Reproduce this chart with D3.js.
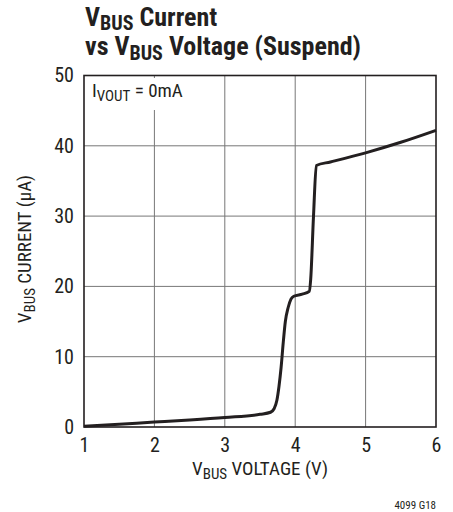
<!DOCTYPE html>
<html>
<head>
<meta charset="utf-8">
<script src="https://cdn.jsdelivr.net/npm/d3@7"></script>
<style>
body{margin:0;background:#fff;}
svg{display:block;}
text{font-family:"Liberation Sans Narrow","Roboto Condensed","Arial Narrow",sans-serif;fill:#231f20;}
</style>
</head>
<body>
<svg id="c" width="453" height="512"></svg>
<script>
const voltage = [1, 1.5, 2, 2.5, 3, 3.5, 3.65, 3.7, 3.74, 3.77, 3.8, 3.83, 3.86, 3.9, 3.94, 3.98, 4.1, 4.2, 4.22, 4.26, 4.3, 4.5, 5, 5.5, 6];
const current = [0.1, 0.4, 0.7, 1.0, 1.35, 1.8, 2.1, 2.6, 3.8, 5.8, 8.5, 12, 15, 17, 18.2, 18.6, 18.9, 19.3, 21, 30, 37.2, 37.7, 39.0, 40.5, 42.2];
const xTicks = [1, 2, 3, 4, 5, 6];
const yTicks = [0, 10, 20, 30, 40, 50];

const svg = d3.select("#c");
const L = 84, R = 436, T = 75.5, B = 427;
const x = d3.scaleLinear().domain([1, 6]).range([L, R]);
const y = d3.scaleLinear().domain([0, 50]).range([B, T]);

// grid
const g = svg.append("g");
g.selectAll(".vx").data(xTicks.slice(1, -1)).join("line")
  .attr("x1", d => x(d)).attr("x2", d => x(d)).attr("y1", T).attr("y2", B)
  .attr("stroke", "#777").attr("stroke-width", 1);
g.selectAll(".hy").data(yTicks.slice(1, -1)).join("line")
  .attr("x1", L).attr("x2", R).attr("y1", d => y(d)).attr("y2", d => y(d))
  .attr("stroke", "#777").attr("stroke-width", 1);

// axes (tick labels)
const xAxis = d3.axisBottom(x).tickValues(xTicks).tickSize(0).tickPadding(11).tickFormat(d3.format("d"));
const ax = svg.append("g").attr("transform", `translate(0,${B})`).call(xAxis);
ax.attr("font-family", null).attr("font-size", null);
ax.select(".domain").remove();
ax.selectAll("text").attr("font-size", 20).attr("fill", "#231f20");
const yAxis = d3.axisLeft(y).tickValues(yTicks).tickSize(0).tickPadding(10).tickFormat(d3.format("d"));
const ay = svg.append("g").attr("transform", `translate(${L},0)`).call(yAxis);
ay.attr("font-family", null).attr("font-size", null);
ay.select(".domain").remove();
ay.selectAll("text").attr("font-size", 20).attr("fill", "#231f20");

// legend label with white background
const legRect = svg.append("rect").attr("fill", "#fff");
const leg = svg.append("text").attr("x", 92).attr("y", 97).attr("font-size", 19);
leg.append("tspan").text("I");
leg.append("tspan").attr("font-size", 15).attr("dy", 4).text("VOUT");
leg.append("tspan").attr("dy", -4).text(" = 0mA");
const bb = leg.node().getBBox();
legRect.attr("x", bb.x - 2).attr("y", bb.y - 1).attr("width", bb.width + 4).attr("height", bb.height + 6);

// curve
const line = d3.line().x((d, i) => x(voltage[i])).y((d, i) => y(current[i])).curve(d3.curveMonotoneX);
svg.append("path").datum(current).attr("d", line)
  .attr("fill", "none").attr("stroke", "#231f20").attr("stroke-width", 3).attr("stroke-linejoin", "round");

// frame
svg.append("rect").attr("x", L).attr("y", T).attr("width", R - L).attr("height", B - T)
  .attr("fill", "none").attr("stroke", "#231f20").attr("stroke-width", 1.6);

// title
function subText(sel, parts, sub, dy) {
  parts.forEach(p => {
    const t = sel.append("tspan").text(p.t);
    if (p.s) { t.attr("font-size", sub).attr("dy", dy); }
    else if (p.back) { t.attr("dy", -dy); }
  });
}
const t1 = svg.append("text").attr("x", 85).attr("y", 26).attr("font-size", 26).attr("font-weight", "bold");
subText(t1, [{t: "V"}, {t: "BUS", s: 1}, {t: " Current", back: 1}], 20, 4);
const t2 = svg.append("text").attr("x", 85).attr("y", 55).attr("font-size", 26).attr("font-weight", "bold");
subText(t2, [{t: "vs V"}, {t: "BUS", s: 1}, {t: " Voltage (Suspend)", back: 1}], 20, 5);

// x title
const xt = svg.append("text").attr("x", 260).attr("y", 475).attr("text-anchor", "middle").attr("font-size", 19);
subText(xt, [{t: "V"}, {t: "BUS", s: 1}, {t: " VOLTAGE (V)", back: 1}], 15, 4);

// y title
const yt = svg.append("text").attr("transform", "translate(31,249) rotate(-90)").attr("text-anchor", "middle").attr("font-size", 19);
subText(yt, [{t: "V"}, {t: "BUS", s: 1}, {t: " CURRENT (µA)", back: 1}], 15, 4);

// figure id
svg.append("text").attr("x", 436).attr("y", 509).attr("text-anchor", "end").attr("font-size", 11).text("4099 G18");
</script>
</body>
</html>
